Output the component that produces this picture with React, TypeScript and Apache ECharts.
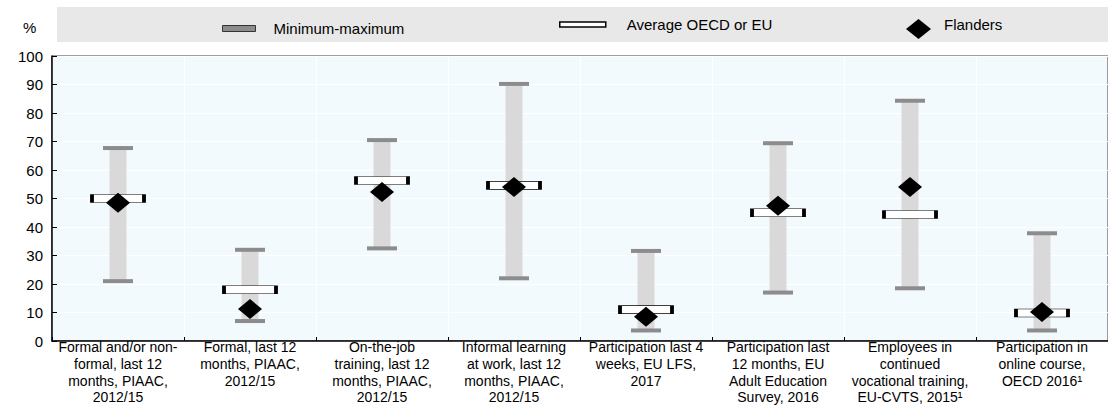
import React, { useEffect, useRef } from "react";
import * as echarts from "echarts";

const categories = [
  "Formal and/or non-\nformal, last 12\nmonths, PIAAC,\n2012/15",
  "Formal, last 12\nmonths, PIAAC,\n2012/15",
  "On-the-job\ntraining, last 12\nmonths, PIAAC,\n2012/15",
  "Informal learning\nat work, last 12\nmonths, PIAAC,\n2012/15",
  "Participation last 4\nweeks, EU LFS,\n2017",
  "Participation last\n12 months, EU\nAdult Education\nSurvey, 2016",
  "Employees in\ncontinued\nvocational training,\nEU-CVTS, 2015¹",
  "Participation in\nonline course,\nOECD 2016¹",
];
const minValues = [21, 7, 32.5, 22, 3.7, 17, 18.5, 3.7];
const maxValues = [67.7, 32, 70.5, 90.2, 31.6, 69.4, 84.3, 37.8];
const averageValues = [50, 18, 56.3, 54.6, 11, 45, 44.4, 9.8];
const flandersValues = [48.5, 11.2, 52.3, 54, 8.5, 47.5, 54, 10.2];
const yTicks = { min: 0, max: 100, interval: 10 };

const FONT = "'Liberation Sans', Arial, sans-serif";

export default function App() {
  const ref = useRef<HTMLDivElement>(null);
  useEffect(() => {
    document.body.style.margin = "0";
    const chart = echarts.init(ref.current!, null, { renderer: "svg" });
    const rangeData = categories.map((_, i) => [i, minValues[i], maxValues[i]]);
    chart.setOption({
      animation: false,
      textStyle: { fontFamily: FONT, color: "#000" },
      graphic: [
        {
          type: "rect",
          left: 57,
          top: 7,
          z: 0,
          shape: { width: 1051, height: 35 },
          style: { fill: "#e8e8e8" },
        },
        {
          type: "text",
          left: 23,
          top: 20,
          z: 1,
          style: { text: "%", fontSize: 15, fill: "#000", fontFamily: FONT },
        },
      ],
      legend: [
        {
          selectedMode: false,
          padding: 0,
          left: 222,
          top: 21,
          z: 5,
          itemWidth: 33,
          itemHeight: 6,
          textStyle: { fontSize: 15, color: "#000", fontFamily: FONT, padding: [0, 0, 0, 13] },
          data: [
            {
              name: "Minimum-maximum",
              icon: "rect",
              itemStyle: { color: "#8c8c8c", borderColor: "#333", borderWidth: 1 },
            },
          ],
        },
        {
          selectedMode: false,
          padding: 0,
          left: 559,
          top: 17,
          z: 5,
          itemWidth: 46,
          itemHeight: 5,
          textStyle: { fontSize: 15, color: "#000", fontFamily: FONT, padding: [0, 0, 0, 16] },
          data: [
            {
              name: "Average OECD or EU",
              icon: "rect",
              itemStyle: { color: "#fff", borderColor: "#000", borderWidth: 1.5 },
            },
          ],
        },
        {
          selectedMode: false,
          padding: 0,
          left: 906,
          top: 17,
          z: 5,
          itemWidth: 25,
          itemHeight: 20,
          formatter: "{t|{name}}",
          textStyle: {
            fontSize: 15,
            color: "#000",
            fontFamily: FONT,
            padding: [0, 0, 0, 8],
            rich: { t: { fontSize: 15, color: "#000", fontFamily: FONT, padding: [0, 0, 9, 0] } },
          },
          data: [{ name: "Flanders", icon: "diamond", itemStyle: { color: "#000" } }],
        },
      ],
      grid: {
        left: 52,
        right: -7,
        top: 56,
        bottom: 76,
        show: true,
        backgroundColor: "#f2fafd",
        borderColor: "#404040",
        borderWidth: 1,
      },
      xAxis: {
        type: "category",
        data: categories,
        boundaryGap: true,
        axisLine: { show: true, lineStyle: { color: "#000", width: 1.5 } },
        axisTick: { show: true, inside: true, length: 4, lineStyle: { color: "#000" } },
        splitLine: { show: true, lineStyle: { color: "#ffffff", width: 1 } },
        axisLabel: {
          interval: 0,
          margin: -2,
          fontSize: 14,
          lineHeight: 16.7,
          color: "#000",
          fontFamily: FONT,
          align: "center",
        },
      },
      yAxis: {
        type: "value",
        min: yTicks.min,
        max: yTicks.max,
        interval: yTicks.interval,
        axisLine: { show: true, lineStyle: { color: "#000", width: 1.5 } },
        axisTick: { show: true, inside: true, length: 5, lineStyle: { color: "#000" } },
        splitLine: { show: true, lineStyle: { color: "#ffffff", width: 1 } },
        axisLabel: { margin: 9, fontSize: 15, color: "#000", fontFamily: FONT },
      },
      series: [
        {
          name: "Minimum-maximum",
          type: "custom",
          z: 2,
          encode: { x: 0, y: [1, 2] },
          data: rangeData,
          itemStyle: { color: "#8c8c8c" },
          renderItem: (params: any, api: any) => {
            const x = api.value(0);
            const lo = api.coord([x, api.value(1)]);
            const hi = api.coord([x, api.value(2)]);
            return {
              type: "group",
              children: [
                {
                  type: "rect",
                  shape: { x: lo[0] - 8.5, y: hi[1], width: 17, height: lo[1] - hi[1] },
                  style: { fill: "#d9d9d9" },
                },
                {
                  type: "rect",
                  shape: { x: hi[0] - 15, y: hi[1] - 2, width: 30, height: 4 },
                  style: { fill: "#8c8c8c" },
                },
                {
                  type: "rect",
                  shape: { x: lo[0] - 15, y: lo[1] - 2, width: 30, height: 4 },
                  style: { fill: "#8c8c8c" },
                },
              ],
            };
          },
        },
        {
          name: "Average OECD or EU",
          type: "scatter",
          z: 3,
          symbol: "rect",
          symbolSize: [52, 8],
          data: averageValues,
          itemStyle: { color: "#fff", borderColor: "#000", borderWidth: 1.5, opacity: 1 },
        },
        {
          name: "Flanders",
          type: "scatter",
          z: 4,
          symbol: "diamond",
          symbolSize: [24, 20],
          data: flandersValues,
          itemStyle: { color: "#000", opacity: 1 },
        },
      ],
    });
    return () => chart.dispose();
  }, []);
  return <div ref={ref} style={{ width: 1108, height: 417 }} />;
}
